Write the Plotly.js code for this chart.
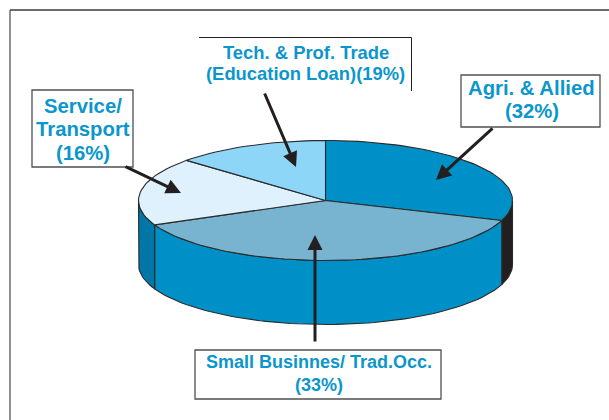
<!DOCTYPE html>
<html>
<head>
<meta charset="utf-8">
<script src="https://cdn.plot.ly/plotly-3.0.1.min.js"></script>
<style>html,body{margin:0;padding:0;background:#fff}#c{width:609px;height:420px}</style>
</head>
<body>
<div id="c"></div>
<script>
// Printed shares, as labelled in the picture.
var categories = ['Agri. & Allied', 'Small Businnes/ Trad.Occ.', 'Service/ Transport', 'Tech. & Prof. Trade (Education Loan)'];
var sharePct = [32, 33, 16, 19];
// The source drawing does not slice strictly in proportion to its labels;
// these are the sweeps, clockwise from 12 o'clock.
var drawnSweepDeg = [109.5, 136.5, 66, 48];
var topColors = ['#0090c8', '#78b3d0', '#dff1fc', '#8ed6f8'];
var wallColors = ['#231f20', '#0090c8', '#0077a6', '#0090c8'];

var labelLines = [
  ['Agri. & Allied', '(' + sharePct[0] + '%)'],
  ['Small Businnes/ Trad.Occ.', '(' + sharePct[1] + '%)'],
  ['Service/', 'Transport', '(' + sharePct[2] + '%)'],
  ['Tech. & Prof. Trade', '(Education Loan)(' + sharePct[3] + '%)']
];
var labelX = [531.5, 318.5, 83, 305.5];
var labelY = [[88, 111], [362, 385], [106, 129, 153], [52, 73]];
var labelSize = [20.3, 18, 20.3, 18.4];
var arrowFrom = [[494, 127], [315, 343], [124, 166], [264, 92]];
var arrowTo = [[436, 180], [315, 235], [181, 193], [296, 167]];

var cx = 325.5, cy = 200.5, rx = 187, ry = 60, depth = 64;
var ink = '#2a2a2a', blue = '#0b96cc';

function px(t) { return cx + rx * Math.cos(t * Math.PI / 180); }
function py(t, d) { return cy - ry * Math.sin(t * Math.PI / 180) + (d || 0); }
function arc(a, b, d) {
  var xs = [], ys = [], n = Math.max(2, Math.ceil(Math.abs(b - a) / 2));
  for (var i = 0; i <= n; i++) {
    var t = a + (b - a) * i / n;
    xs.push(px(t)); ys.push(py(t, d));
  }
  return [xs, ys];
}

var traces = [];
var start = 90;
drawnSweepDeg.forEach(function (sw, i) {
  var end = start - sw;
  // side wall: the part of this slice lying in the front half of the rim
  var a = Math.min(start, 0), b = Math.max(end, -180);
  if (a > b) {
    var up = arc(a, b, 0), low = arc(b, a, depth);
    traces.push({
      type: 'scatter', mode: 'lines', fill: 'toself', fillcolor: wallColors[i],
      x: up[0].concat(low[0], [up[0][0]]), y: up[1].concat(low[1], [up[1][0]]),
      line: { color: ink, width: 1.1 }, hoverinfo: 'skip', showlegend: false
    });
  }
  start = end;
});
start = 90;
drawnSweepDeg.forEach(function (sw, i) {
  var end = start - sw, r = arc(start, end, 0);
  traces.push({
    type: 'scatter', mode: 'lines', fill: 'toself', fillcolor: topColors[i], name: categories[i],
    x: [cx].concat(r[0], [cx]), y: [cy].concat(r[1], [cy]),
    line: { color: ink, width: 1.1 }, hoverinfo: 'skip', showlegend: false
  });
  start = end;
});

function seg(x0, y0, x1, y1, c, w) {
  return { type: 'line', xref: 'x', yref: 'y', x0: x0, y0: y0, x1: x1, y1: y1, line: { color: c, width: w }, layer: 'above' };
}
function box(x0, y0, x1, y1) {
  return { type: 'rect', xref: 'x', yref: 'y', x0: x0, y0: y0, x1: x1, y1: y1, fillcolor: '#fff', line: { color: '#505050', width: 1.3 }, layer: 'above' };
}
var shapes = [
  seg(10, 10, 609, 10, '#3a3a3a', 1.3),
  seg(10, 10, 10, 420, '#555555', 1.3),
  box(32, 90, 133, 167),
  box(461, 75, 600, 127),
  box(195, 350, 441, 399),
  seg(199, 37.5, 411.5, 37.5, '#222222', 1),
  seg(411.5, 37.5, 411.5, 91, '#222222', 1)
];

var annotations = [];
arrowFrom.forEach(function (f, i) {
  annotations.push({
    xref: 'x', yref: 'y', axref: 'x', ayref: 'y', x: arrowTo[i][0], y: arrowTo[i][1], ax: f[0], ay: f[1],
    text: '', showarrow: true, arrowhead: 2, arrowsize: 1, arrowwidth: 3, arrowcolor: '#231f20'
  });
});
labelLines.forEach(function (lines, i) {
  lines.forEach(function (t, j) {
    annotations.push({
      xref: 'x', yref: 'y', x: labelX[i], y: labelY[i][j], text: t, showarrow: false,
      xanchor: 'center', yanchor: 'middle',
      font: { family: 'Liberation Sans, Arial, sans-serif', size: labelSize[i], color: blue, weight: 700 }
    });
  });
});

var hidden = { visible: false, fixedrange: true };
Plotly.newPlot('c', traces, {
  width: 609, height: 420, margin: { l: 0, r: 0, t: 0, b: 0 },
  paper_bgcolor: '#fff', plot_bgcolor: '#fff', showlegend: false,
  xaxis: Object.assign({ range: [0, 609] }, hidden),
  yaxis: Object.assign({ range: [420, 0] }, hidden),
  shapes: shapes, annotations: annotations
}, { displayModeBar: false, staticPlot: true });
</script>
</body>
</html>
